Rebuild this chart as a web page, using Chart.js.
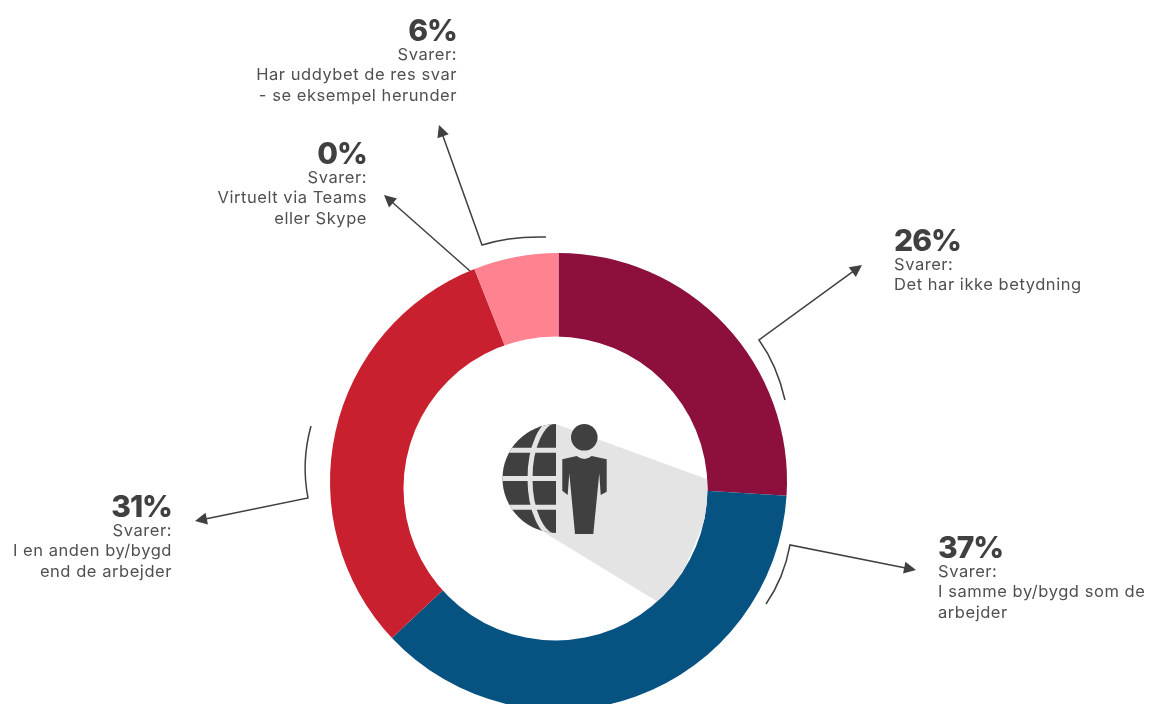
<!DOCTYPE html>
<html>
<head>
<meta charset="utf-8">
<style>
  html, body { margin: 0; padding: 0; background: #fff; overflow: hidden; }
  #wrap { position: relative; width: 1154px; height: 704px; }
</style>
<script src="https://cdn.jsdelivr.net/npm/chart.js@4/dist/chart.umd.min.js"></script>
</head>
<body>
<div id="wrap"><canvas id="donut" width="1154" height="704"></canvas></div>
<script>
// answer shares, clockwise from 12 o'clock
const categories = [
  'Det har ikke betydning',
  'I samme by/bygd som de arbejder',
  'I en anden by/bygd end de arbejder',
  'Har uddybet de res svar - se eksempel herunder',
  'Virtuelt via Teams eller Skype'
];
const shares = [26, 37, 31, 6, 0];
const sliceColors = ['#8C0F3D', '#065382', '#C8202F', '#FF8291', '#FFB3BC'];
const answerLines = [
  ['Det har ikke betydning'],
  ['I samme by/bygd som de', 'arbejder'],
  ['I en anden by/bygd', 'end de arbejder'],
  ['Har uddybet de res svar', '- se eksempel herunder'],
  ['Virtuelt via Teams', 'eller Skype']
];

const INK = '#404040';
const SHADOW = '#E4E4E4';

// where each text block sits: anchor x, baseline of the big number
const blocks = [
  { x: 894, y: 251, align: 'left' },
  { x: 938, y: 558, align: 'left' },
  { x: 172, y: 517, align: 'right' },
  { x: 457, y: 41, align: 'right' },
  { x: 367, y: 164, align: 'right' }
];

// callouts: start, optional curve [control, end of curve], arrow tip
const callouts = [
  { tip: [862, 265], corner: [759, 340], ctrl: [777, 365], end: [785, 400] },
  { tip: [916, 570], corner: [790, 545], ctrl: [784, 578], end: [766, 604] },
  { tip: [195, 521], corner: [308, 498], ctrl: [301, 462], end: [311, 426] },
  { tip: [439, 125], corner: [482, 245], ctrl: [510, 236], end: [546, 237] },
  { tip: [384, 195], corner: [470, 271] }
];

function drawArrow(ctx, c) {
  const [tx, ty] = c.tip;
  const [cx, cy] = c.corner;
  const a = Math.atan2(ty - cy, tx - cx);
  ctx.strokeStyle = INK;
  ctx.lineWidth = 1.5;
  ctx.beginPath();
  if (c.end) {
    ctx.moveTo(c.end[0], c.end[1]);
    ctx.quadraticCurveTo(c.ctrl[0], c.ctrl[1], cx, cy);
  } else {
    ctx.moveTo(cx, cy);
  }
  ctx.lineTo(tx - 8 * Math.cos(a), ty - 8 * Math.sin(a));
  ctx.stroke();
  // arrow head
  ctx.fillStyle = INK;
  ctx.beginPath();
  ctx.moveTo(tx, ty);
  ctx.lineTo(tx - 12 * Math.cos(a) + 6 * Math.sin(a), ty - 12 * Math.sin(a) - 6 * Math.cos(a));
  ctx.lineTo(tx - 12 * Math.cos(a) - 6 * Math.sin(a), ty - 12 * Math.sin(a) + 6 * Math.cos(a));
  ctx.closePath();
  ctx.fill();
}

function drawBlock(ctx, i) {
  const b = blocks[i];
  ctx.textAlign = b.align;
  ctx.textBaseline = 'alphabetic';
  ctx.fillStyle = INK;
  ctx.font = '800 30px Inter, "Open Sans", sans-serif';
  ctx.letterSpacing = '-1px';
  ctx.fillText(shares[i] + '%', b.x, b.y);
  ctx.font = '400 16.5px Inter, "Open Sans", sans-serif';
  ctx.letterSpacing = '0.55px';
  ctx.fillStyle = '#505050';
  ['Svarer:'].concat(answerLines[i]).forEach((line, n) => {
    ctx.fillText(line, b.x, b.y + 19 + n * 20.3);
  });
  ctx.letterSpacing = '0px';
}

// the centre pictogram: long shadow, half globe, standing person
function drawIcon(ctx) {
  ctx.save();
  ctx.beginPath();
  ctx.arc(555.5, 488.5, 152, 0, Math.PI * 2);
  ctx.clip();
  ctx.fillStyle = SHADOW;
  ctx.beginPath();
  ctx.moveTo(556, 424);
  ctx.lineTo(720, 484);
  ctx.lineTo(668, 608);
  ctx.lineTo(545, 533);
  ctx.closePath();
  ctx.fill();
  ctx.restore();

  // half globe with grid lines cut out
  ctx.save();
  ctx.beginPath();
  ctx.arc(557, 478.5, 54.5, Math.PI / 2, Math.PI * 1.5);
  ctx.closePath();
  ctx.clip();
  ctx.fillStyle = SHADOW;
  ctx.fillRect(500, 420, 57, 116);
  ctx.beginPath();
  ctx.rect(500, 420, 56, 116);
  ctx.clip();
  ctx.fillStyle = INK;
  ctx.fillRect(500, 420, 57, 116);
  ctx.strokeStyle = SHADOW;
  ctx.lineWidth = 5;
  [450.2, 478.5, 507.2].forEach(y => {
    ctx.beginPath();
    ctx.moveTo(500, y);
    ctx.lineTo(557, y);
    ctx.stroke();
  });
  ctx.beginPath();
  ctx.ellipse(557, 478.5, 27, 58, 0, 0, Math.PI * 2);
  ctx.stroke();
  ctx.restore();

  // person
  ctx.fillStyle = INK;
  ctx.beginPath();
  ctx.arc(584.3, 437.3, 13.3, 0, Math.PI * 2);
  ctx.fill();
  ctx.beginPath();
  ctx.moveTo(562.3, 459.3);
  ctx.lineTo(576.7, 456);
  ctx.quadraticCurveTo(584.3, 462, 591.7, 456);
  ctx.lineTo(606.7, 459.3);
  ctx.lineTo(606.7, 491.7);
  ctx.lineTo(600.7, 495);
  ctx.lineTo(599.3, 473.3);
  ctx.lineTo(593.3, 534);
  ctx.lineTo(575, 534);
  ctx.lineTo(569.3, 473.3);
  ctx.lineTo(567.7, 495);
  ctx.lineTo(562.3, 490.7);
  ctx.closePath();
  ctx.fill();
}

const annotations = {
  id: 'annotations',
  afterDatasetsDraw(chart) {
    const ctx = chart.ctx;
    ctx.save();
    // hole is slightly off the ring's centre
    ctx.fillStyle = '#fff';
    ctx.beginPath();
    ctx.arc(555.5, 488.5, 152, 0, Math.PI * 2);
    ctx.fill();
    drawIcon(ctx);
    callouts.forEach(c => drawArrow(ctx, c));
    shares.forEach((s, i) => drawBlock(ctx, i));
    ctx.restore();
  }
};

new Chart(document.getElementById('donut'), {
  type: 'doughnut',
  data: {
    labels: categories,
    datasets: [{
      data: shares,
      backgroundColor: sliceColors,
      borderWidth: 0
    }]
  },
  options: {
    responsive: false,
    animation: false,
    radius: 228.5,
    cutout: 140,
    // pushes the ring centre to 558.5, 481.5
    layout: { padding: { top: 259, right: 37 } },
    plugins: { legend: { display: false }, tooltip: { enabled: false } }
  },
  plugins: [annotations]
});
</script>
</body>
</html>
